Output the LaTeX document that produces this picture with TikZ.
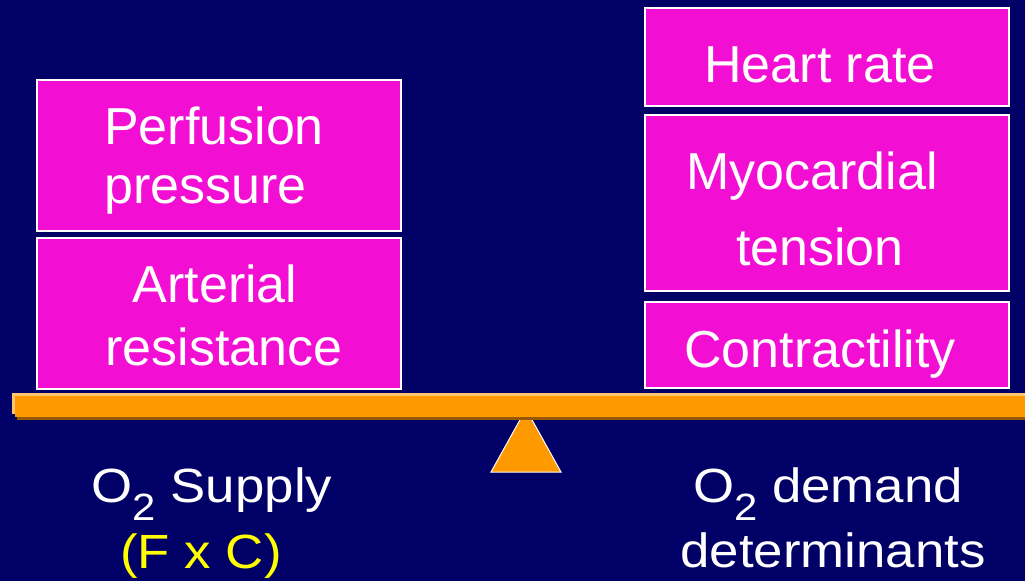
\documentclass[tikz,border=0pt]{standalone}
\usepackage{fontspec}
\setmainfont{Liberation Sans}
\usepackage{graphicx}
\definecolor{navy}{RGB}{0,0,102}
\definecolor{magbox}{RGB}{242,14,210}
\definecolor{beamor}{RGB}{255,153,0}
\definecolor{beamlt}{RGB}{255,196,110}
\definecolor{beamdk}{RGB}{150,88,0}
\definecolor{yel}{RGB}{255,255,0}
\newcommand{\osub}{O\raisebox{-18pt}{\fontsize{38}{38}\selectfont 2}}
\tikzset{
  mbox/.style={draw=white, line width=1.5pt, fill=magbox, inner sep=0pt},
  txt/.style={text=white, inner sep=0pt, font=\fontsize{52}{62}\selectfont},
  btxt/.style={text=white, inner sep=0pt, font=\fontsize{48}{56}\selectfont},
}
\begin{document}
\begin{tikzpicture}[x=1pt,y=-1pt]
\fill[navy] (0,0) rectangle (1025,581);
\useasboundingbox (0,0) rectangle (1025,581);
% boxes
\node[mbox, minimum width=364pt, minimum height=151pt] (perf) at (219,155.5) {};
\node[mbox, minimum width=364pt, minimum height=151pt] (art) at (219,313.5) {};
\node[mbox, minimum width=364pt, minimum height=98pt] (hr) at (827,57) {};
\node[mbox, minimum width=364pt, minimum height=176pt] (myo) at (827,203) {};
\node[mbox, minimum width=364pt, minimum height=86pt] (con) at (827,345) {};
% box texts
\node[txt, anchor=base west] (t1) at (104,144) {Perfusion};
\node[txt, anchor=base west] (t2) at (104,203) {pressure};
\node[txt, anchor=base] (t3) at (215,302) {Arterial};
\node[txt, anchor=base] (t4) at (224,365) {resistance};
\node[txt, anchor=base] (t5) at (820,82) {Heart rate};
\node[txt, anchor=base] (t6) at (812,189) {Myocardial};
\node[txt, anchor=base] (t7) at (820,265) {tension};
\node[txt, anchor=base] (t8) at (820,367) {Contractility};
% fulcrum
\coordinate (apex) at (526,409);
\coordinate (bl) at (491,472);
\coordinate (br) at (561,472);
\draw[white, line width=1pt, fill=beamor, line join=miter] (apex) -- (br) -- (bl) -- cycle;
% beam
\fill[beamdk] (17,399) rectangle (1025,419.5);
\fill[beamlt] (12,393) rectangle (1025,414);
\fill[beamor] (15,396) rectangle (1025,416.5);
% bottom labels
\node[btxt, anchor=base] (sup) at (212,502) {\scalebox{1.1}[1]{\osub{} Supply}};
\node[btxt, anchor=base, text=yel] (fc) at (201,568) {\scalebox{1.1}[1]{(F x C)}};
\node[btxt, anchor=base] (dem) at (828,502) {\scalebox{1.1}[1]{\osub{} demand}};
\node[btxt, anchor=base] (det) at (833,567) {\scalebox{1.1}[1]{determinants}};
\end{tikzpicture}
\end{document}
